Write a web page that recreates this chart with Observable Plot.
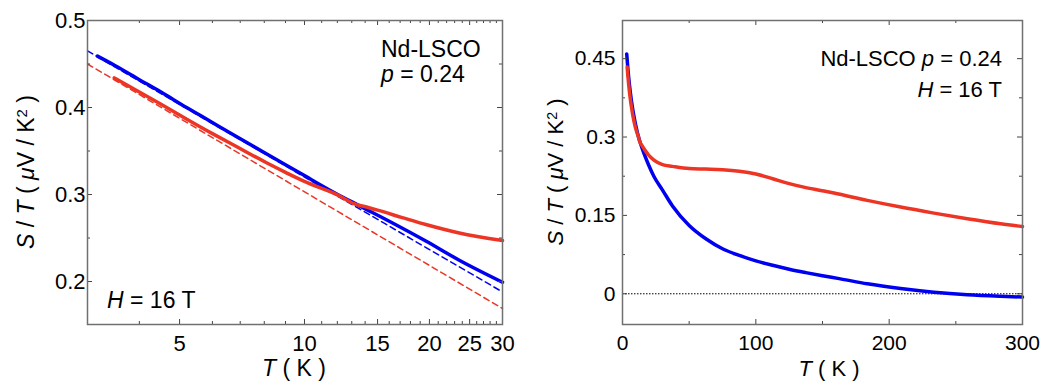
<!DOCTYPE html>
<html><head><meta charset="utf-8">
<script src="https://cdn.jsdelivr.net/npm/d3@7"></script>
<script src="https://cdn.jsdelivr.net/npm/@observablehq/plot@0.6"></script>
<style>
body{margin:0;background:#fff;}
#wrap{display:flex;width:1043px;height:382px;}
#wrap svg{flex:none;overflow:visible;}
</style></head><body><div id="wrap"></div>
<script>
// ---------- Left panel (log T) ----------
const blueLeftT = [3.17, 3.5, 4.0, 4.5, 5.2, 5.63, 6.77, 8.19, 9.85, 11.87, 13.5, 16.3, 19.6, 23.6, 30];
const blueLeftY = [0.459, 0.448, 0.432, 0.418, 0.400, 0.3905, 0.368, 0.3455, 0.3235, 0.3015, 0.2875, 0.2672, 0.2465, 0.2245, 0.1992];
const redLeftT  = [3.48, 3.96, 4.5, 5.23, 6.0, 6.8, 8.1, 9.0, 9.9, 10.8, 11.9, 13.0, 14.3, 15.0, 17.2, 19.6, 23.6, 30];
const redLeftY  = [0.434, 0.419, 0.404, 0.386, 0.370, 0.356, 0.3365, 0.3255, 0.316, 0.3085, 0.3005, 0.2905, 0.2848, 0.282, 0.2735, 0.2655, 0.2558, 0.2471];
const blueFitT = [3, 30];
const blueFitY = [0.465, 0.188];
const redFitT  = [3, 30];
const redFitY  = [0.450, 0.169];

// ---------- Right panel (linear T) ----------
const blueRightT = [3.17, 4, 5.2, 6.77, 8.19, 9.85, 11.87, 13.5, 16.3, 19.6, 23.6, 30, 37.5, 50, 62.5, 75, 87.6, 100, 112.6, 125, 137.5, 150, 162.5, 183.6, 208.6, 233.6, 258.6, 283.6, 300];
const blueRightY = [0.459, 0.432, 0.400, 0.368, 0.3455, 0.3235, 0.3015, 0.2875, 0.2672, 0.2465, 0.2245, 0.1985, 0.1680, 0.1308, 0.1053, 0.0862, 0.0733, 0.0630, 0.0545, 0.0470, 0.0405, 0.0345, 0.029, 0.019, 0.010, 0.0030, -0.0018, -0.0048, -0.0063];
const redRightT = [3.48, 3.96, 4.5, 5.23, 6.0, 6.8, 8.1, 9.0, 9.9, 10.8, 11.9, 13.0, 14.3, 17.2, 19.6, 23.6, 30, 37.5, 50, 62.5, 75, 87.6, 100, 112.6, 123.6, 136, 148.6, 158.6, 183.6, 208.6, 233.6, 258.6, 283.6, 300];
const redRightY = [0.434, 0.419, 0.404, 0.386, 0.370, 0.356, 0.3365, 0.3255, 0.316, 0.3085, 0.3005, 0.2905, 0.2848, 0.2735, 0.2655, 0.2558, 0.2471, 0.2438, 0.2396, 0.2387, 0.2375, 0.2346, 0.2292, 0.2202, 0.2118, 0.2041, 0.1978, 0.1927, 0.1787, 0.1659, 0.1544, 0.1436, 0.134, 0.1289];

// ---------- ticks ----------
const xMajorL = [5, 10, 15, 20, 25, 30];
const xMinorL = [4, 6, 7, 8, 9, 11, 12, 13, 14, 16, 17, 18, 19, 21, 22, 23, 24, 26, 27, 28, 29];
const yMajorL = [0.2, 0.3, 0.4, 0.5];
const yMinorL = [0.25, 0.35, 0.45];
const xMajorR = [0, 100, 200, 300];
const xMinorR = [50, 150, 250];
const yMajorR = [0, 0.15, 0.3, 0.45];
const yMinorR = [0.075, 0.225, 0.375];

const BLUE = "#0000f0", RED = "#ec3524", FRAME = "#707070", TICK = "#444";
const FONT = '"Liberation Sans", Arial, Helvetica, sans-serif';
const rows = (xs, ys) => xs.map((x, i) => ({x, y: ys[i]}));

function makePanel(o) {
  const fh = o.height - o.marginTop - o.marginBottom;
  const fw = o.width - o.marginLeft - o.marginRight;
  const tx = (vals, len) => [
    Plot.tickX(vals, {x: d => d, insetTop: fh - len, stroke: TICK, strokeWidth: 1}),
    Plot.tickX(vals, {x: d => d, insetBottom: fh - len, stroke: TICK, strokeWidth: 1})
  ];
  const ty = (vals, len) => [
    Plot.tickY(vals, {y: d => d, insetRight: fw - len, stroke: TICK, strokeWidth: 1}),
    Plot.tickY(vals, {y: d => d, insetLeft: fw - len, stroke: TICK, strokeWidth: 1})
  ];
  const svg = Plot.plot({
    width: o.width, height: o.height,
    marginLeft: o.marginLeft, marginRight: o.marginRight,
    marginTop: o.marginTop, marginBottom: o.marginBottom,
    style: {fontFamily: FONT, fontSize: o.tickFont + "px", color: "black", background: "white", overflow: "visible"},
    x: {type: o.xType, domain: o.xDomain, ticks: o.xMajor, tickSize: 0, tickPadding: 11, tickFormat: d => String(d), label: null},
    y: {domain: o.yDomain, ticks: o.yMajor, tickSize: 0, tickPadding: o.yPad, tickFormat: d => String(d), label: null},
    marks: [
      ...o.extra,
      ...o.lines,
      ...tx(o.xMajor, 5), ...tx(o.xMinor, 3),
      ...ty(o.yMajor, 5), ...ty(o.yMinor, 3),
      Plot.frame({stroke: FRAME, strokeWidth: 1.5})
    ]
  });
  const s = d3.select(svg);
  const g = s.append("g").attr("font-family", FONT).attr("fill", "black");
  // y title
  const yt = g.append("text")
    .attr("transform", `translate(${o.yTitleX},${o.marginTop + fh / 2}) rotate(-90)`)
    .attr("text-anchor", "middle").attr("font-size", o.titleFont);
  yt.append("tspan").attr("font-style", "italic").text("S");
  yt.append("tspan").text(" / ");
  yt.append("tspan").attr("font-style", "italic").text("T");
  yt.append("tspan").text(" ( ");
  yt.append("tspan").attr("font-style", "italic").text("μ");
  yt.append("tspan").text("V / K");
  yt.append("tspan").attr("dy", "-0.45em").attr("font-size", "0.65em").text("2");
  yt.append("tspan").attr("dy", "0.3em").text(" )");
  // x title
  const xt = g.append("text").attr("x", o.xTitleX).attr("y", o.height - 6)
    .attr("text-anchor", "middle").attr("font-size", o.titleFont);
  xt.append("tspan").attr("font-style", "italic").text("T");
  xt.append("tspan").text(" ( K )");
  // annotations
  for (const a of o.notes) {
    const t = g.append("text").attr("x", a.x).attr("y", a.y).attr("text-anchor", a.anchor).attr("font-size", o.noteFont);
    for (const p of a.parts) {
      const sp = t.append("tspan").text(p[0]);
      if (p[1]) sp.attr("font-style", "italic");
    }
  }
  return svg;
}

const left = makePanel({
  width: 520, height: 382, marginLeft: 87, marginRight: 18, marginTop: 20, marginBottom: 58,
  xType: "log", xDomain: [3, 30], yDomain: [0.1506, 0.5],
  xMajor: xMajorL, xMinor: xMinorL, yMajor: yMajorL, yMinor: yMinorL, yPad: 2,
  tickFont: 22, titleFont: 23, noteFont: 23, yTitleX: 34, xTitleX: 294,
  extra: [
    Plot.line(rows(blueFitT, blueFitY), {x: "x", y: "y", stroke: BLUE, strokeWidth: 1.5, strokeDasharray: "6,4"}),
    Plot.line(rows(redFitT, redFitY), {x: "x", y: "y", stroke: RED, strokeWidth: 1.5, strokeDasharray: "6,4"})
  ],
  lines: [
    Plot.line(rows(blueLeftT, blueLeftY), {x: "x", y: "y", stroke: BLUE, strokeWidth: 3.5, curve: "monotone-x"}),
    Plot.line(rows(redLeftT, redLeftY), {x: "x", y: "y", stroke: RED, strokeWidth: 3.5, curve: "monotone-x"})
  ],
  notes: [
    {x: 381, y: 57, anchor: "start", parts: [["Nd-LSCO", false]]},
    {x: 381, y: 82, anchor: "start", parts: [["p", true], [" = 0.24", false]]},
    {x: 107, y: 308, anchor: "start", parts: [["H", true], [" = 16 T", false]]}
  ]
});

const right = makePanel({
  width: 523, height: 382, marginLeft: 102, marginRight: 21, marginTop: 20, marginBottom: 58,
  xType: "linear", xDomain: [0, 300], yDomain: [-0.0588, 0.523],
  xMajor: xMajorR, xMinor: xMinorR, yMajor: yMajorR, yMinor: yMinorR, yPad: 7,
  tickFont: 21, titleFont: 22, noteFont: 22, yTitleX: 43, xTitleX: 309,
  extra: [
    Plot.ruleY([0], {stroke: "black", strokeWidth: 1, strokeDasharray: "1.5,1.5"})
  ],
  lines: [
    Plot.line(rows(blueRightT, blueRightY), {x: "x", y: "y", stroke: BLUE, strokeWidth: 3.5, curve: "monotone-x"}),
    Plot.line(rows(redRightT, redRightY), {x: "x", y: "y", stroke: RED, strokeWidth: 3.5, curve: "monotone-x"})
  ],
  notes: [
    {x: 482, y: 66, anchor: "end", parts: [["Nd-LSCO ", false], ["p", true], [" = 0.24", false]]},
    {x: 482, y: 97, anchor: "end", parts: [["H", true], [" = 16 T", false]]}
  ]
});

document.getElementById("wrap").append(left, right);
</script>
</body></html>
